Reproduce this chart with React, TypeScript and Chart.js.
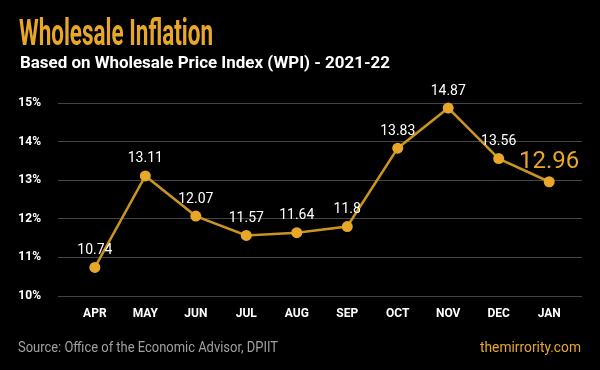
import React, { useEffect, useRef } from "react";
import { Chart, registerables } from "chart.js";

Chart.register(...registerables);

const months = ["APR", "MAY", "JUN", "JUL", "AUG", "SEP", "OCT", "NOV", "DEC", "JAN"];
const wpi = [10.74, 13.11, 12.07, 11.57, 11.64, 11.8, 13.83, 14.87, 13.56, 12.96];
const yTicks = [10, 11, 12, 13, 14, 15];

const title = "Wholesale Inflation";
const subtitle = "Based on Wholesale Price Index (WPI) - 2021-22";
const source = "Source: Office of the Economic Advisor, DPIIT";
const brand = "themirrority.com";

const GOLD = "#E9A72A";
const LINE = "#C99420";

function fitText(ctx: CanvasRenderingContext2D, text: string, x: number, y: number, width: number) {
  const w = ctx.measureText(text).width;
  ctx.save();
  ctx.translate(x, y);
  ctx.scale(width / w, 1);
  ctx.fillText(text, 0, 0);
  ctx.restore();
}

const decorPlugin = {
  id: "decor",
  afterDraw(chart: any) {
    const ctx: CanvasRenderingContext2D = chart.ctx;
    ctx.save();
    ctx.textAlign = "left";
    ctx.textBaseline = "alphabetic";
    ctx.fillStyle = GOLD;
    ctx.font = "bold 36px Roboto";
    fitText(ctx, title, 19, 45, 194);
    ctx.fillStyle = "#FFFFFF";
    ctx.font = "bold 16px Roboto";
    fitText(ctx, subtitle, 20, 68, 370);
    ctx.fillStyle = "#A0A0A0";
    ctx.font = "15px Roboto";
    fitText(ctx, source, 18, 352, 260);
    ctx.fillStyle = GOLD;
    fitText(ctx, brand, 480, 352, 101);

    // data labels
    const meta = chart.getDatasetMeta(0);
    ctx.textAlign = "center";
    ctx.textBaseline = "middle";
    meta.data.forEach((pt: any, i: number) => {
      const v = wpi[i];
      const last = i === wpi.length - 1;
      if (last) {
        ctx.fillStyle = GOLD;
        ctx.font = "24px Roboto";
        ctx.fillText(String(v), pt.x, pt.y - 20);
      } else {
        ctx.fillStyle = "#FFFFFF";
        ctx.font = "14px Roboto";
        ctx.fillText(String(v), pt.x, pt.y - 17);
      }
    });
    ctx.restore();
  },
};

export default function App() {
  const ref = useRef<HTMLCanvasElement>(null);
  useEffect(() => {
    document.body.style.margin = "0";
    document.body.style.background = "#000";
    const chart = new Chart(ref.current!, {
      type: "line",
      data: {
        datasets: [
          {
            data: wpi.map((v, i) => ({ x: i, y: v })),
            borderColor: LINE,
            borderWidth: 2.5,
            pointRadius: 5.5,
            pointBackgroundColor: GOLD,
            pointBorderColor: GOLD,
            pointBorderWidth: 0,
            tension: 0,
            clip: false as any,
          },
        ],
      },
      options: {
        animation: false,
        responsive: false,
        maintainAspectRatio: false,
        layout: { padding: { top: 103, right: 18, left: 0, bottom: 0 } },
        plugins: { legend: { display: false }, tooltip: { enabled: false } },
        scales: {
          x: {
            type: "linear",
            min: -0.73,
            max: 9.65,
            afterFit: (s: any) => {
              s.height = 74;
            },
            grid: { display: false },
            border: { display: false },
            ticks: {
              stepSize: 1,
              includeBounds: false,
              autoSkip: false,
              maxRotation: 0,
              padding: 3,
              color: "#FFFFFF",
              font: { family: "Roboto", size: 12, weight: "bold" },
              callback: (v: any) => months[v as number] ?? "",
            },
          },
          y: {
            min: yTicks[0],
            max: yTicks[yTicks.length - 1],
            afterFit: (s: any) => {
              s.width = 58;
            },
            grid: { color: "#444444", lineWidth: 1, drawTicks: false },
            border: { display: false },
            ticks: {
              stepSize: 1,
              padding: 17,
              color: "#FFFFFF",
              font: { family: "Roboto", size: 12, weight: "bold" },
              callback: (v: any) => v + "%",
            },
          },
        },
      },
      plugins: [decorPlugin],
    });
    return () => chart.destroy();
  }, []);
  return (
    <div style={{ width: 600, height: 370, background: "#000" }}>
      <canvas ref={ref} width={600} height={370} style={{ display: "block" }} />
    </div>
  );
}
